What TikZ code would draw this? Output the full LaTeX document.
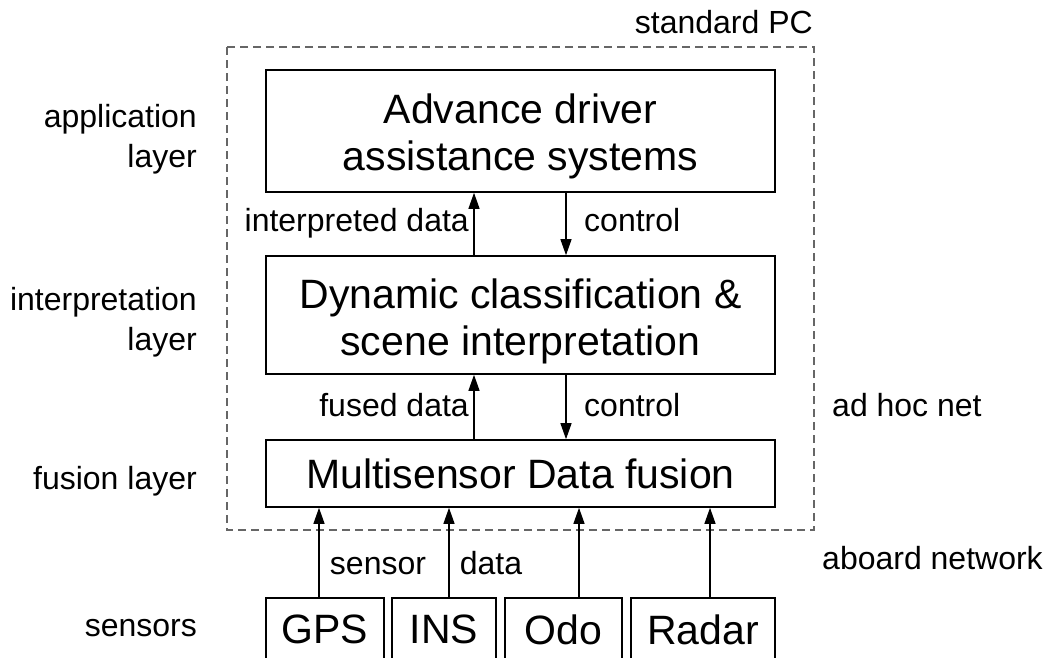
\documentclass[tikz,border=0pt]{standalone}
\usepackage{fontspec}
\setmainfont{Liberation Sans}
\usetikzlibrary{arrows.meta}
\begin{document}
\begin{tikzpicture}[x=1pt,y=-1pt,
  box/.style={draw, line width=1.6pt, minimum width=509pt, align=center,
    font=\fontsize{41}{47}\selectfont, inner sep=0pt},
  boxtext/.style={align=center, font=\fontsize{41}{47}\selectfont, inner sep=0pt},
  lbl/.style={font=\fontsize{32}{40}\selectfont, inner sep=0pt},
  arr/.style={line width=1.2pt, -{Triangle[length=16pt,width=11pt]}},
  sens/.style={draw, line width=1.6pt, minimum height=64pt, anchor=north,
    font=\fontsize{41}{47}\selectfont, inner sep=0pt},
  dashbox/.style={draw=black!60, line width=1.3pt, dash pattern=on 8pt off 5pt}
]
\useasboundingbox (0,0) rectangle (1051,657);
\begin{scope}
\clip (0,0) rectangle (1051,657);
% dashed PC region
\draw[dashbox] (227,47) rectangle (814,530);
% main boxes
\node[box, minimum height=122pt] (b1) at (520.5,131) {};
\node[boxtext] (t1) at (520.5,136) {Advance driver\\assistance systems};
\node[box, minimum height=118pt] (b2) at (520.5,315) {};
\node[boxtext] (t2) at (520.5,321) {Dynamic classification \&\\scene interpretation};
\node[box, minimum height=67pt] (b3) at (520.5,473.5) {Multisensor Data fusion};
% sensor boxes
\node[sens, minimum width=118pt] (gps) at (325,597) {GPS};
\node[sens, minimum width=104pt] (ins) at (444,597) {INS};
\node[sens, minimum width=117pt] (odo) at (563.5,597) {Odo};
\node[sens, minimum width=144pt] (radar) at (703,597) {Radar};
% arrows
\draw[arr] (474,0 |- b2.north) -- (474,0 |- b1.south);
\draw[arr] (566,0 |- b1.south) -- (566,0 |- b2.north);
\draw[arr] (474,0 |- b3.north) -- (474,0 |- b2.south);
\draw[arr] (566,0 |- b2.south) -- (566,0 |- b3.north);
\draw[arr] (319,0 |- gps.north) -- (319,0 |- b3.south);
\draw[arr] (449,0 |- ins.north) -- (449,0 |- b3.south);
\draw[arr] (579,0 |- odo.north) -- (579,0 |- b3.south);
\draw[arr] (710,0 |- radar.north) -- (710,0 |- b3.south);
% labels
\node[lbl, anchor=east, align=right] (lapp) at (197,139) {application\\layer};
\node[lbl, anchor=east, align=right] (lint) at (197,322) {interpretation\\layer};
\node[lbl, anchor=east] (lfus) at (197,481) {fusion layer};
\node[lbl, anchor=east] (lsen) at (197,628) {sensors};
\node[lbl, anchor=base east] (lid) at (469,231) {interpreted data};
\node[lbl, anchor=base west] (lc1) at (584,231) {control};
\node[lbl, anchor=base east] (lfd) at (469,416) {fused data};
\node[lbl, anchor=base west] (lc2) at (584,416) {control};
\node[lbl, anchor=west] (lah) at (832,405) {ad hoc net};
\node[lbl, anchor=west] (lab) at (822,558) {aboard network};
\node[lbl, anchor=east] (lpc) at (813,22) {standard PC};
\node[lbl, anchor=base] (lsd1) at (378,574) {sensor};
\node[lbl, anchor=base] (lsd2) at (491,574) {data};
\end{scope}
\end{tikzpicture}
\end{document}
